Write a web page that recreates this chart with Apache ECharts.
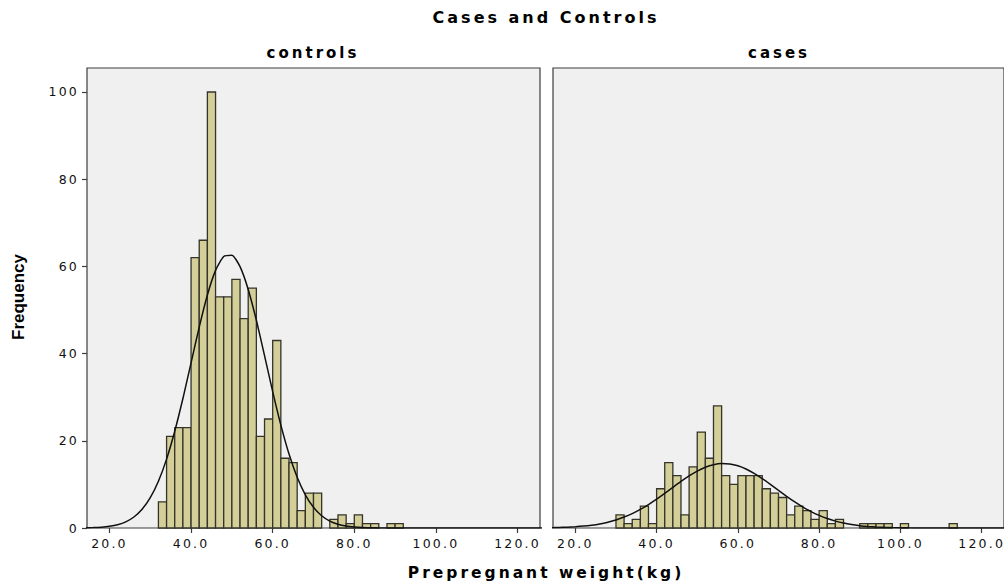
<!DOCTYPE html>
<html>
<head>
<meta charset="utf-8">
<script src="https://cdn.jsdelivr.net/npm/echarts@6/dist/echarts.min.js"></script>
<style>
  html, body { margin: 0; padding: 0; background: #fff; }
  #chart { width: 1004px; height: 586px; }
  /* SPSS output has wide letter spacing */
  #chart text { letter-spacing: 2.2px; }
  #chart text[style*="bold"] { letter-spacing: 3px; }
  #chart text[style*="Liberation"] { letter-spacing: 0; }
</style>
</head>
<body>
<div id="chart"></div>
<script>
const binWidth = 2;
const controlsFirstBin = 32;
const controlsCounts = [6, 21, 23, 23, 62, 66, 100, 53, 53, 57, 48, 55, 21, 25, 43, 16, 15, 4, 8, 8,
  0, 2, 3, 1, 3, 1, 1, 0, 1, 1];
const casesFirstBin = 30;
const casesCounts = [3, 1, 2, 5, 1, 9, 15, 12, 3, 14, 22, 16, 28, 12, 10, 12, 12, 12, 9, 8,
  7, 3, 5, 4, 2, 4, 1, 2, 0, 0, 1, 1, 1, 1, 0, 1, 0, 0, 0, 0, 0, 1];

// fitted normal curves
const curveX = [14, 16, 18, 20, 22, 24, 26, 28, 30, 32, 34, 36, 38, 40, 42, 44, 46, 48, 50, 52,
  54, 56, 58, 60, 62, 64, 66, 68, 70, 72, 74, 76, 78, 80, 82, 84, 86, 88, 90, 92,
  94, 96, 98, 100, 102, 104, 126];
const controlsCurve = [0.04, 0.09, 0.19, 0.39, 0.76, 1.41, 2.52, 4.28, 6.95, 10.73, 15.8, 22.18, 29.69, 37.88, 46.08, 53.44, 59.08, 62.26, 62.56, 59.93,
  54.72, 47.65, 39.54, 31.29, 23.6, 16.97, 11.63, 7.61, 4.74, 2.82, 1.59, 0.86, 0.44, 0.22, 0.1, 0.05, 0.02, 0.01, 0, 0,
  0, 0, 0, 0, 0, 0, 0];
const casesCurve = [0.07, 0.12, 0.18, 0.29, 0.44, 0.65, 0.94, 1.34, 1.85, 2.51, 3.31, 4.27, 5.38, 6.61, 7.95, 9.32, 10.68, 11.95, 13.06, 13.94,
  14.53, 14.79, 14.7, 14.27, 13.53, 12.53, 11.33, 10.01, 8.63, 7.27, 5.98, 4.81, 3.77, 2.89, 2.16, 1.58, 1.13, 0.79, 0.54, 0.36,
  0.23, 0.15, 0.09, 0.05, 0.03, 0.02, 0];

const xTicks = [20, 40, 60, 80, 100, 120];
const yTicks = [0, 20, 40, 60, 80, 100];
const panelNames = ["controls", "cases"];

const barFill = "#d4cf98";
const barEdge = "#34342a";
const labelFont = "DejaVu Sans";

function bins(first, counts) {
  const out = [];
  counts.forEach((c, i) => {
    if (c > 0) out.push([first + i * binWidth, first + (i + 1) * binWidth, c]);
  });
  return out;
}

function renderBin(params, api) {
  const lo = api.coord([api.value(0), 0]);
  const hi = api.coord([api.value(1), api.value(2)]);
  return {
    type: "rect",
    shape: { x: lo[0], y: hi[1], width: hi[0] - lo[0], height: lo[1] - hi[1] },
    style: { fill: barFill, stroke: barEdge, lineWidth: 1.3 },
  };
}

const grids = [
  { left: 87, top: 68, width: 453, height: 460 },
  { left: 553, top: 68, width: 453, height: 460 },
].map((g) => ({
  ...g,
  show: true,
  backgroundColor: "#f0f0f0",
  borderColor: "#3c3c3c",
  borderWidth: 1.2,
}));

const xAxes = [0, 1].map((i) => ({
  type: "value",
  gridIndex: i,
  min: 14.5,
  max: 125.5,
  splitLine: { show: false },
  axisLine: { show: false },
  axisTick: {
    show: true,
    customValues: xTicks,
    length: 5,
    lineStyle: { color: "#3c3c3c", width: 1.2 },
  },
  axisLabel: {
    customValues: xTicks,
    formatter: (v) => v.toFixed(1),
    margin: 9,
    color: "#111",
    fontSize: 12.5,
    fontFamily: labelFont,
  },
}));

const yAxes = [0, 1].map((i) => ({
  type: "value",
  gridIndex: i,
  min: 0,
  max: 105.5,
  splitLine: { show: false },
  axisLine: { show: false },
  axisTick: {
    show: i === 0,
    customValues: yTicks,
    length: 5,
    lineStyle: { color: "#3c3c3c", width: 1.2 },
  },
  axisLabel: {
    show: i === 0,
    customValues: yTicks,
    margin: 8,
    color: "#111",
    fontSize: 12.5,
    fontFamily: labelFont,
  },
}));

const series = [];
[[controlsFirstBin, controlsCounts, controlsCurve], [casesFirstBin, casesCounts, casesCurve]].forEach(
  ([first, counts, curve], i) => {
    series.push({
      type: "custom",
      xAxisIndex: i,
      yAxisIndex: i,
      renderItem: renderBin,
      encode: { x: [0, 1], y: 2 },
      data: bins(first, counts),
      silent: true,
    });
    series.push({
      type: "line",
      xAxisIndex: i,
      yAxisIndex: i,
      data: curveX.map((x, k) => [x, curve[k]]),
      smooth: 0.2,
      showSymbol: false,
      lineStyle: { color: "#111", width: 1.5 },
      silent: true,
      z: 3,
    });
  }
);

const boldText = (text, x, y, size) => ({
  type: "text",
  x: x,
  y: y,
  silent: true,
  style: {
    text: text,
    fill: "#000",
    font: "bold " + size + "px " + labelFont,
    textAlign: "center",
    textVerticalAlign: "middle",
  },
});

const chart = echarts.init(document.getElementById("chart"), null, { renderer: "svg" });
chart.setOption({
  backgroundColor: "#fff",
  animation: false,
  grid: grids,
  xAxis: xAxes,
  yAxis: yAxes,
  series: series,
  graphic: [
    boldText("Cases and Controls", 546, 17, 16),
    boldText(panelNames[0], 313, 53, 15),
    boldText(panelNames[1], 779, 53, 15),
    boldText("Prepregnant weight(kg)", 546, 573, 15.5),
    {
      type: "text",
      x: 18,
      y: 297,
      rotation: Math.PI / 2,
      silent: true,
      style: {
        text: "Frequency",
        fill: "#000",
        font: 'bold 17px "Liberation Sans"',
        textAlign: "center",
        textVerticalAlign: "middle",
      },
    },
  ],
});
</script>
</body>
</html>
